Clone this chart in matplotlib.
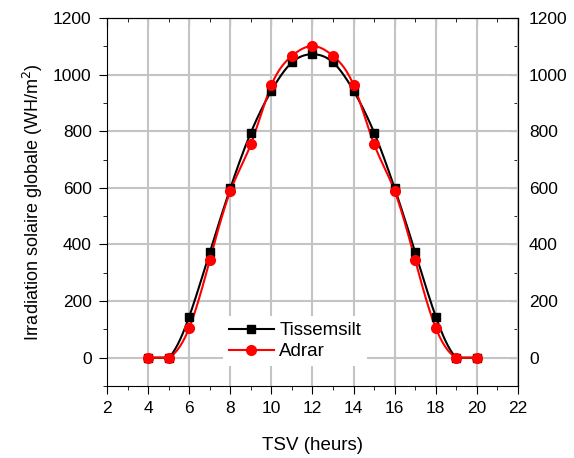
import numpy as np
import matplotlib
matplotlib.use('Agg')
import matplotlib.pyplot as plt
from matplotlib.ticker import MultipleLocator

plt.rcParams['font.family'] = ['Liberation Sans', 'DejaVu Sans']
plt.rcParams['font.size'] = 12

# heures solaires vraies
heures = [4, 5, 6, 7, 8, 9, 10, 11, 12, 13, 14, 15, 16, 17, 18, 19, 20]
tissemsilt = [0, 0, 145, 372, 598, 795, 943, 1043, 1072, 1043, 943, 795, 598, 372, 145, 0, 0]
adrar = [0, 0, 105, 344, 588, 754, 963, 1066, 1101, 1066, 963, 754, 588, 344, 105, 0, 0]


def lisser(x, y, n=400):
    # spline cubique naturelle (sans passer sous zero) pour tracer la courbe
    x = np.asarray(x, float)
    y = np.asarray(y, float)
    h = np.diff(x)
    m = len(x)
    A = np.zeros((m, m))
    b = np.zeros(m)
    A[0, 0] = A[-1, -1] = 1
    for i in range(1, m - 1):
        A[i, i - 1] = h[i - 1]
        A[i, i] = 2 * (h[i - 1] + h[i])
        A[i, i + 1] = h[i]
        b[i] = 6 * ((y[i + 1] - y[i]) / h[i] - (y[i] - y[i - 1]) / h[i - 1])
    M = np.linalg.solve(A, b)
    xs = np.linspace(x[0], x[-1], n)
    k = np.clip(np.searchsorted(x, xs) - 1, 0, m - 2)
    t1 = x[k + 1] - xs
    t0 = xs - x[k]
    hk = h[k]
    ys = (M[k] * t1**3 + M[k + 1] * t0**3) / (6 * hk) \
        + (y[k] / hk - M[k] * hk / 6) * t1 + (y[k + 1] / hk - M[k + 1] * hk / 6) * t0
    return xs, np.maximum(ys, 0)


fig = plt.figure(figsize=(5.74, 4.58), dpi=100)
ax = fig.add_axes([0.1864, 0.1572, 0.7160, 0.8035])

xs, ys = lisser(heures, tissemsilt)
ax.plot(xs, ys, color='black', lw=1.5, zorder=3)
xs, ys = lisser(heures, adrar)
ax.plot(xs, ys, color='red', lw=1.5, zorder=4)
ax.plot(heures, tissemsilt, 's', color='black', ms=6, zorder=5)
ax.plot(heures, adrar, 'o', color='red', ms=7, zorder=6)

# entrees de legende
ax.plot([], [], '-s', color='black', lw=1.5, ms=6, label='Tissemsilt')
ax.plot([], [], '-o', color='red', lw=1.5, ms=7, label='Adrar')

ax.set_xlim(2, 22)
ax.set_ylim(-100, 1200)
ax.xaxis.set_major_locator(MultipleLocator(2))
ax.xaxis.set_minor_locator(MultipleLocator(1))
ax.yaxis.set_minor_locator(MultipleLocator(100))
ax.set_yticks(range(0, 1201, 200))

ax.grid(True, which='major', color='#c4c4c4', lw=1.5, zorder=0)
ax.set_axisbelow(True)

ax.tick_params(which='both', direction='out', top=False, right=False, labelsize=12.5, pad=5)
ax.tick_params(which='major', length=6)
ax.tick_params(which='minor', length=3)

# ticks du haut et de droite vers l'interieur
axt = ax.secondary_xaxis('top')
axt.xaxis.set_major_locator(MultipleLocator(2))
axt.xaxis.set_minor_locator(MultipleLocator(1))
axt.tick_params(which='both', direction='in', labeltop=False)
axt.tick_params(which='major', length=6)
axt.tick_params(which='minor', length=3)

axr = ax.secondary_yaxis('right')
axr.set_yticks(range(0, 1201, 200))
axr.yaxis.set_minor_locator(MultipleLocator(100))
axr.tick_params(which='both', direction='in', labelsize=12.5, pad=8)
axr.tick_params(which='major', length=6)
axr.tick_params(which='minor', length=3)

ax.set_xlabel('TSV (heurs)', fontsize=13.5, labelpad=15)
ax.set_ylabel('Irradiation solaire globale (WH/m$^2$)', fontsize=13, labelpad=6)

leg = ax.legend(loc='center', bbox_to_anchor=(0.457, 0.122), frameon=True,
                fancybox=False, edgecolor='none', facecolor='white', framealpha=1,
                handlelength=2.4, handletextpad=0.3, labelspacing=0.2, fontsize=13.5,
                borderpad=0.3)

fig.savefig('out.png', dpi=100)
